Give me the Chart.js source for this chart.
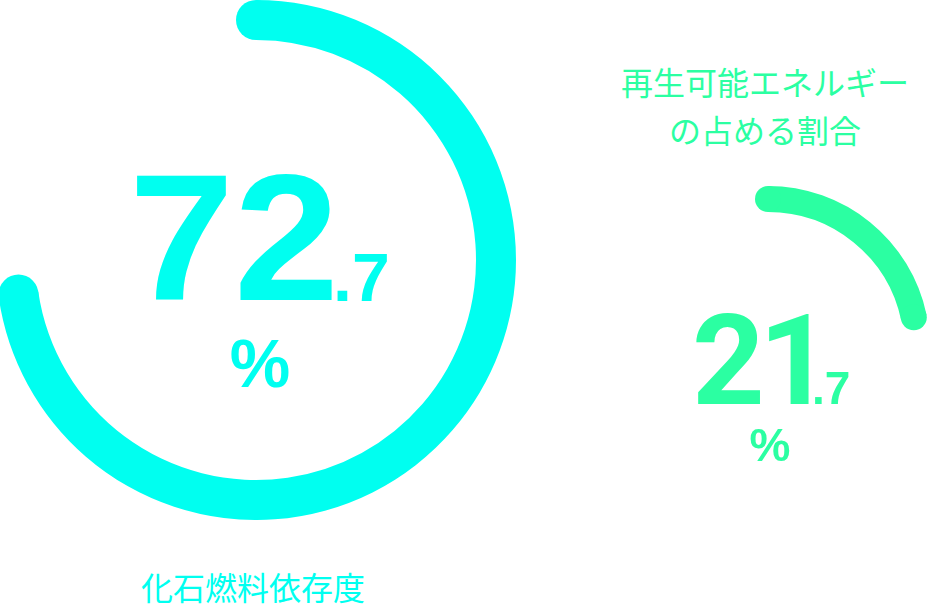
<!DOCTYPE html>
<html lang="ja">
<head>
<meta charset="utf-8">
<script src="https://cdn.jsdelivr.net/npm/chart.js@4.4.0/dist/chart.umd.min.js"></script>
<style>
  html, body { margin: 0; padding: 0; background: #ffffff; }
  body { width: 928px; height: 604px; position: relative; overflow: hidden; }
  .box { position: absolute; }
  .num { position: absolute; font-family: "Liberation Sans", Arial, sans-serif; font-weight: 700; line-height: 1; white-space: nowrap; }
  .jp { position: absolute; font-family: "Noto Sans CJK JP", sans-serif; font-weight: 400; white-space: nowrap; text-align: center; }
</style>
</head>
<body>
<div class="box" id="boxL" style="left:-4px; top:0px; width:520px; height:520px;"><canvas id="cL"></canvas></div>
<div class="box" id="boxR" style="left:606px; top:186px; width:324px; height:324px;"><canvas id="cR"></canvas></div>

<div class="num" id="intL" style="left:129px; top:148px; font-size:180px; transform:scaleX(1.05); transform-origin:0 0;"></div>
<div class="num" id="decL" style="left:333px; top:243px; font-size:68px;"></div>
<div class="num" id="pctL" style="left:160px; width:200px; text-align:center; top:329px; font-size:68px;">%</div>
<div class="jp" id="labL" style="left:103px; width:300px; top:570px; font-size:32px; line-height:32px;"></div>

<div class="jp" id="labR" style="left:565px; width:400px; top:57px; font-size:32px; line-height:48px;"></div>
<div class="num" id="intR" style="left:692px; top:297px; font-size:127px; letter-spacing:-6px; font-family:Roboto, 'Liberation Sans', sans-serif;"></div>
<div class="num" id="decR" style="left:812px; top:365px; font-size:46px;"></div>
<div class="num" id="pctR" style="left:670px; width:200px; text-align:center; top:422px; font-size:46px;">%</div>

<script>
// ---- data ----
const gaugeLabels = ['化石燃料依存度', '再生可能エネルギー\nの占める割合'];
const shareValues = [72.7, 21.7];
const restValues = [27.3, 78.3];
const gaugeColors = ['#00FFF0', '#2BFFA2'];

// round caps at both ends of the value arc, from the arc element geometry
const roundCaps = {
  id: 'roundCaps',
  afterDatasetsDraw(chart) {
    const arc = chart.getDatasetMeta(0).data[0];
    if (!arc) return;
    const p = arc.getProps(['x', 'y', 'startAngle', 'endAngle', 'innerRadius', 'outerRadius'], true);
    const r = (p.innerRadius + p.outerRadius) / 2;
    const w = (p.outerRadius - p.innerRadius) / 2;
    const ctx = chart.ctx;
    ctx.save();
    ctx.fillStyle = arc.options.backgroundColor;
    [p.startAngle, p.endAngle].forEach(a => {
      ctx.beginPath();
      ctx.arc(p.x + r * Math.cos(a), p.y + r * Math.sin(a), w, 0, Math.PI * 2);
      ctx.fill();
    });
    ctx.restore();
  }
};

function makeGauge(id, idx, cutout) {
  new Chart(document.getElementById(id), {
    type: 'doughnut',
    data: {
      labels: ['value', 'rest'],
      datasets: [{
        data: [shareValues[idx], restValues[idx]],
        backgroundColor: [gaugeColors[idx], 'rgba(0,0,0,0)'],
        borderWidth: 0,
        spacing: 0
      }]
    },
    options: {
      responsive: true,
      maintainAspectRatio: false,
      animation: false,
      events: [],
      cutout: cutout,
      rotation: 0,
      circumference: 360,
      layout: { padding: 0 },
      plugins: { legend: { display: false }, tooltip: { enabled: false } }
    },
    plugins: [roundCaps]
  });
}
makeGauge('cL', 0, 220);
makeGauge('cR', 1, 136);

function splitVal(v) {
  const s = v.toFixed(1);
  const i = s.indexOf('.');
  return [s.slice(0, i), s.slice(i)];
}
const [iL, dL] = splitVal(shareValues[0]);
const [iR, dR] = splitVal(shareValues[1]);
const setT = (id, t, c) => { const el = document.getElementById(id); el.textContent = t; el.style.color = c; };
setT('intL', iL, gaugeColors[0]);
setT('decL', dL, gaugeColors[0]);
document.getElementById('pctL').style.color = gaugeColors[0];
setT('labL', gaugeLabels[0], gaugeColors[0]);
setT('intR', iR, gaugeColors[1]);
setT('decR', dR, gaugeColors[1]);
document.getElementById('pctR').style.color = gaugeColors[1];
const labR = document.getElementById('labR');
labR.style.color = gaugeColors[1];
labR.innerHTML = gaugeLabels[1].split('\n').join('<br>');
</script>
</body>
</html>
